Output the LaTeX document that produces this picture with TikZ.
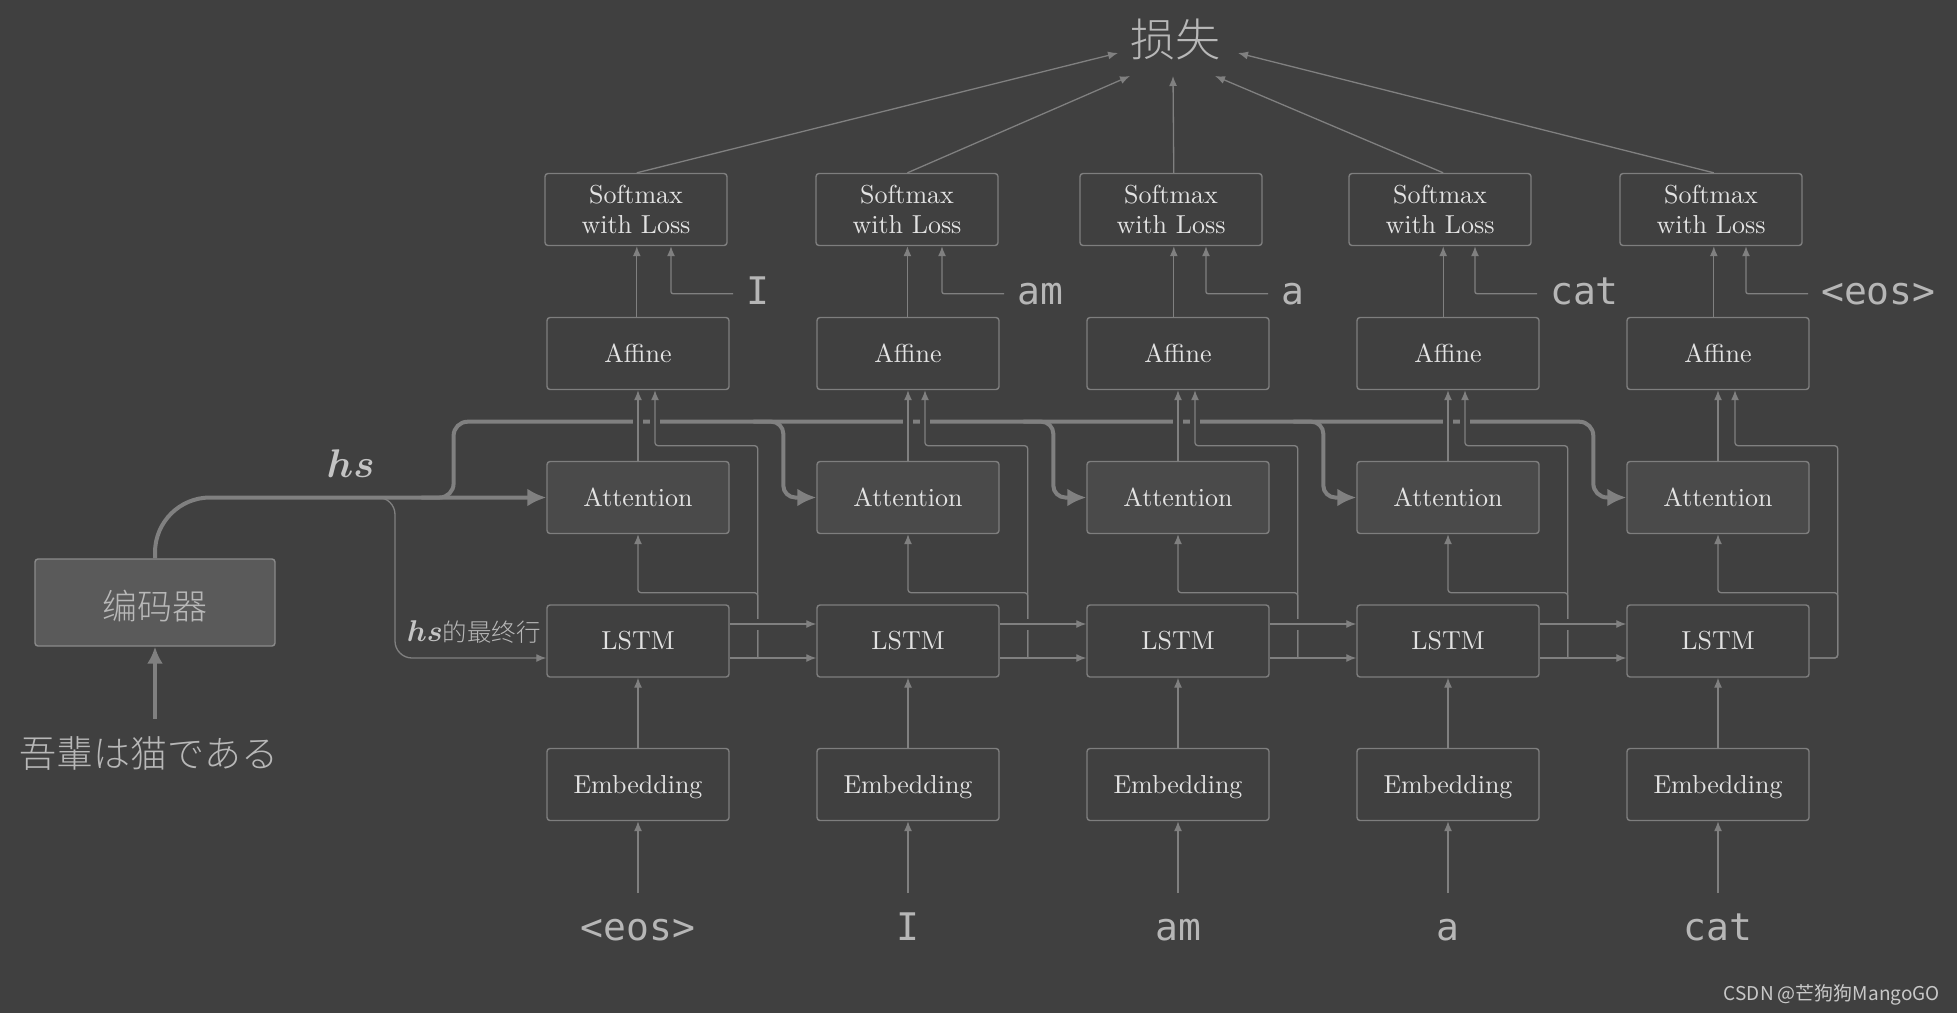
\RequirePackage{fix-cm}
\documentclass[tikz,border=0pt]{standalone}
\usepackage{fontspec}
\usepackage{amsmath}
\usetikzlibrary{arrows.meta,calc}
\setmainfont{lmroman10-regular.otf}
\IfFontExistsTF{Noto Sans CJK SC Light}{\newfontfamily\cjk{Noto Sans CJK SC Light}}{\newfontfamily\cjk{Noto Sans CJK SC}}
\newfontfamily\wmfont{Noto Sans CJK SC}
\newfontfamily\wordfont{DejaVu Sans Mono}
\definecolor{bg}{HTML}{404040}
\definecolor{ln}{HTML}{808080}
\definecolor{bx}{HTML}{7E7E7E}
\definecolor{tx}{HTML}{E2E2E2}
\definecolor{wd}{HTML}{B6B6B6}
\definecolor{cjkc}{HTML}{B8B8B8}
\definecolor{hsc}{HTML}{C4C4C4}
\definecolor{wm}{HTML}{C8C8C8}
\definecolor{attfill}{HTML}{4A4A4A}
\definecolor{encfill}{HTML}{5A5A5A}
\definecolor{encline}{HTML}{8A8A8A}
\begin{document}
\begin{tikzpicture}[x=1pt,y=-1pt,
  cbox/.style={draw=bx, line width=1.4pt, rounded corners=3pt, minimum width=182pt, minimum height=72pt, inner sep=0pt, text=tx, font=\fontsize{26}{29.5}\selectfont, align=center},
  attbox/.style={cbox, fill=attfill},
  tl/.style={draw=ln, line width=1.3pt},
  tarr/.style={tl, -{Latex[length=10pt,width=8pt]}},
  thk/.style={draw=ln, line width=4pt, -{Latex[length=19pt,width=18pt]}},
  word/.style={text=wd, font=\wordfont\fontsize{38}{40}\selectfont, inner sep=0pt, text height=21pt, text depth=0pt},
  gapv/.style={draw=bg, line width=10pt},
]
\fill[bg] (0,0) rectangle (1957,1013);
\useasboundingbox (0,0) rectangle (1957,1013);

% boxes
\foreach \i/\cx/\sx in {1/638/636,2/908/907,3/1178/1171,4/1448/1440,5/1718/1711}{
  \node[cbox] (sm\i) at (\sx,209.5) {Softmax\\with Loss};
  \node[cbox] (af\i) at (\cx,353.5) {Affine};
  \node[attbox] (at\i) at (\cx,497.5) {Attention};
  \node[cbox] (ls\i) at (\cx,641) {LSTM};
  \node[cbox, text height=18pt, text depth=0pt] (em\i) at (\cx,784.5) {Embedding};
  \coordinate (mid\i) at ($(sm\i.south)!0.4!(sm\i.south -| af\i.north)$);
  \coordinate (j\i) at ($(ls\i.east)+(28,17)$);
  \coordinate (d\i) at ($(at\i.west)+(-33,0)$);
}

% loss
\node[text=cjkc, font=\cjk\fontsize{45}{50}\selectfont, inner sep=0pt] (loss) at (1175,39) {损失};

% encoder
\node[cbox, fill=encfill, draw=encline, minimum width=240pt, minimum height=87pt, text=cjkc, font=\cjk\fontsize{35}{40}\selectfont, text height=34pt, text depth=0pt] (enc) at (155,602.5) {编码器};
\node[text=cjkc, font=\cjk\fontsize{37}{40}\selectfont, inner sep=0pt] (src) at (149,754) {吾輩は猫である};
\draw[thk, -{Latex[length=17pt,width=16pt]}] ($(src.north -| enc.south)+(0,-18)$) -- (enc.south);

% labels
\node[text=hsc, font=\fontsize{40}{48}\selectfont, inner sep=0pt] (hs) at (350.7,464) {$\boldsymbol{hs}$};
\node[text=cjkc, anchor=east, inner sep=0pt] (last) at (541,632) {\fontsize{30}{36}\selectfont\color{hsc}$\boldsymbol{hs}$\color{cjkc}\cjk\fontsize{24.5}{28}\selectfont 的最终行};

% target words
\foreach \i/\w in {1/I,2/am,3/a,4/cat,5/{<eos>}}{
  \node[word, anchor=west, inner xsep=13pt] (tw\i) at ($(sm\i.south)+(97,47.5)$) {\w};
}
% input words
\foreach \i/\w in {1/{<eos>},2/I,3/am,4/a,5/cat}{
  \node[word] (iw\i) at ($(em\i.south)+(0,108.5)$) {\w};
}

% watermark
\node[text=wm, font=\wmfont\fontsize{19}{22}\selectfont, anchor=east, inner sep=0pt] (wmk) at (1940,995) {CSDN @芒狗狗MangoGO};

% thick hs lines
\coordinate (bus) at (453.6,421.7);
\draw[thk, rounded corners=55pt] (enc.north) |- (at1.west);
\draw[thk, rounded corners=14pt] ($(at1.west)+(-125,0)$) -| (bus) -- (d5 |- bus) -- (d5) -- (at5.west);
\foreach \i in {2,3,4}{
  \draw[thk, rounded corners=12pt] ($(d\i |- bus)+(-30,0)$) -- (d\i |- bus) -- (d\i) -- (at\i.west);
}
% gaps in bus where thin lines cross
\foreach \i in {1,...,5}{
  \draw[gapv] ($(af\i.south)+(0,26)$) -- ($(af\i.south)+(0,38)$);
  \draw[gapv] ($(af\i.south)+(17,26)$) -- ($(af\i.south)+(17,38)$);
}

% hs final row into first LSTM
\draw[tarr, rounded corners=17pt] ($(at1.west)+(-170,0)$) -| ($(ls1.west)+(-151.3,17)$) -- ($(ls1.west)+(0,17)$);

% thin connectors per column
\foreach \i in {1,...,5}{
  \draw[tarr] (iw\i.north) ++(0,-26) -- (em\i.south);
  \draw[tarr] (em\i.north) -- (ls\i.south);
  \draw[tarr] (at\i.north) -- (af\i.south);
  \draw[tarr] (mid\i |- af\i.north) -- (mid\i);
  \draw[tarr, rounded corners=2pt] (tw\i.west) -| ($(sm\i.south)+(35,0)$);
}
% h lines between LSTMs with branches
\foreach \i/\j in {1/2,2/3,3/4,4/5}{
  \draw[tarr] ($(ls\i.east)+(0,17)$) -- ($(ls\j.west)+(0,17)$);
  \draw[tarr, rounded corners=3pt] (j\i) |- ($(af\i.south)+(17,55.5)$) -- ($(af\i.south)+(17,0)$);
  \draw[tarr, rounded corners=3pt] (j\i) |- ($(at\i.south)+(0,58.5)$) -- (at\i.south);
}
\draw[tarr, rounded corners=3pt] ($(ls5.east)+(0,17)$) -- (j5) |- ($(af5.south)+(17,55.5)$) -- ($(af5.south)+(17,0)$);
\draw[tarr, rounded corners=3pt] ($(ls5.east)+(0,17)$) -- (j5) |- ($(at5.south)+(0,58.5)$) -- (at5.south);
% c lines crossing over the branches
\foreach \i/\j in {1/2,2/3,3/4,4/5}{
  \draw[draw=bg, line width=11pt] ($(j\i)+(-4,-34)$) -- ($(j\i)+(4,-34)$);
  \draw[tarr] ($(ls\i.east)+(0,-17)$) -- ($(ls\j.west)+(0,-17)$);
}

% softmax to loss
\foreach \i/\dx/\dy in {1/-57/14,2/-45/37,3/-2/37,4/40/37,5/63/14}{
  \draw[tarr] (mid\i |- sm\i.north) -- ($(loss)+(\dx,\dy)$);
}
\end{tikzpicture}
\end{document}
